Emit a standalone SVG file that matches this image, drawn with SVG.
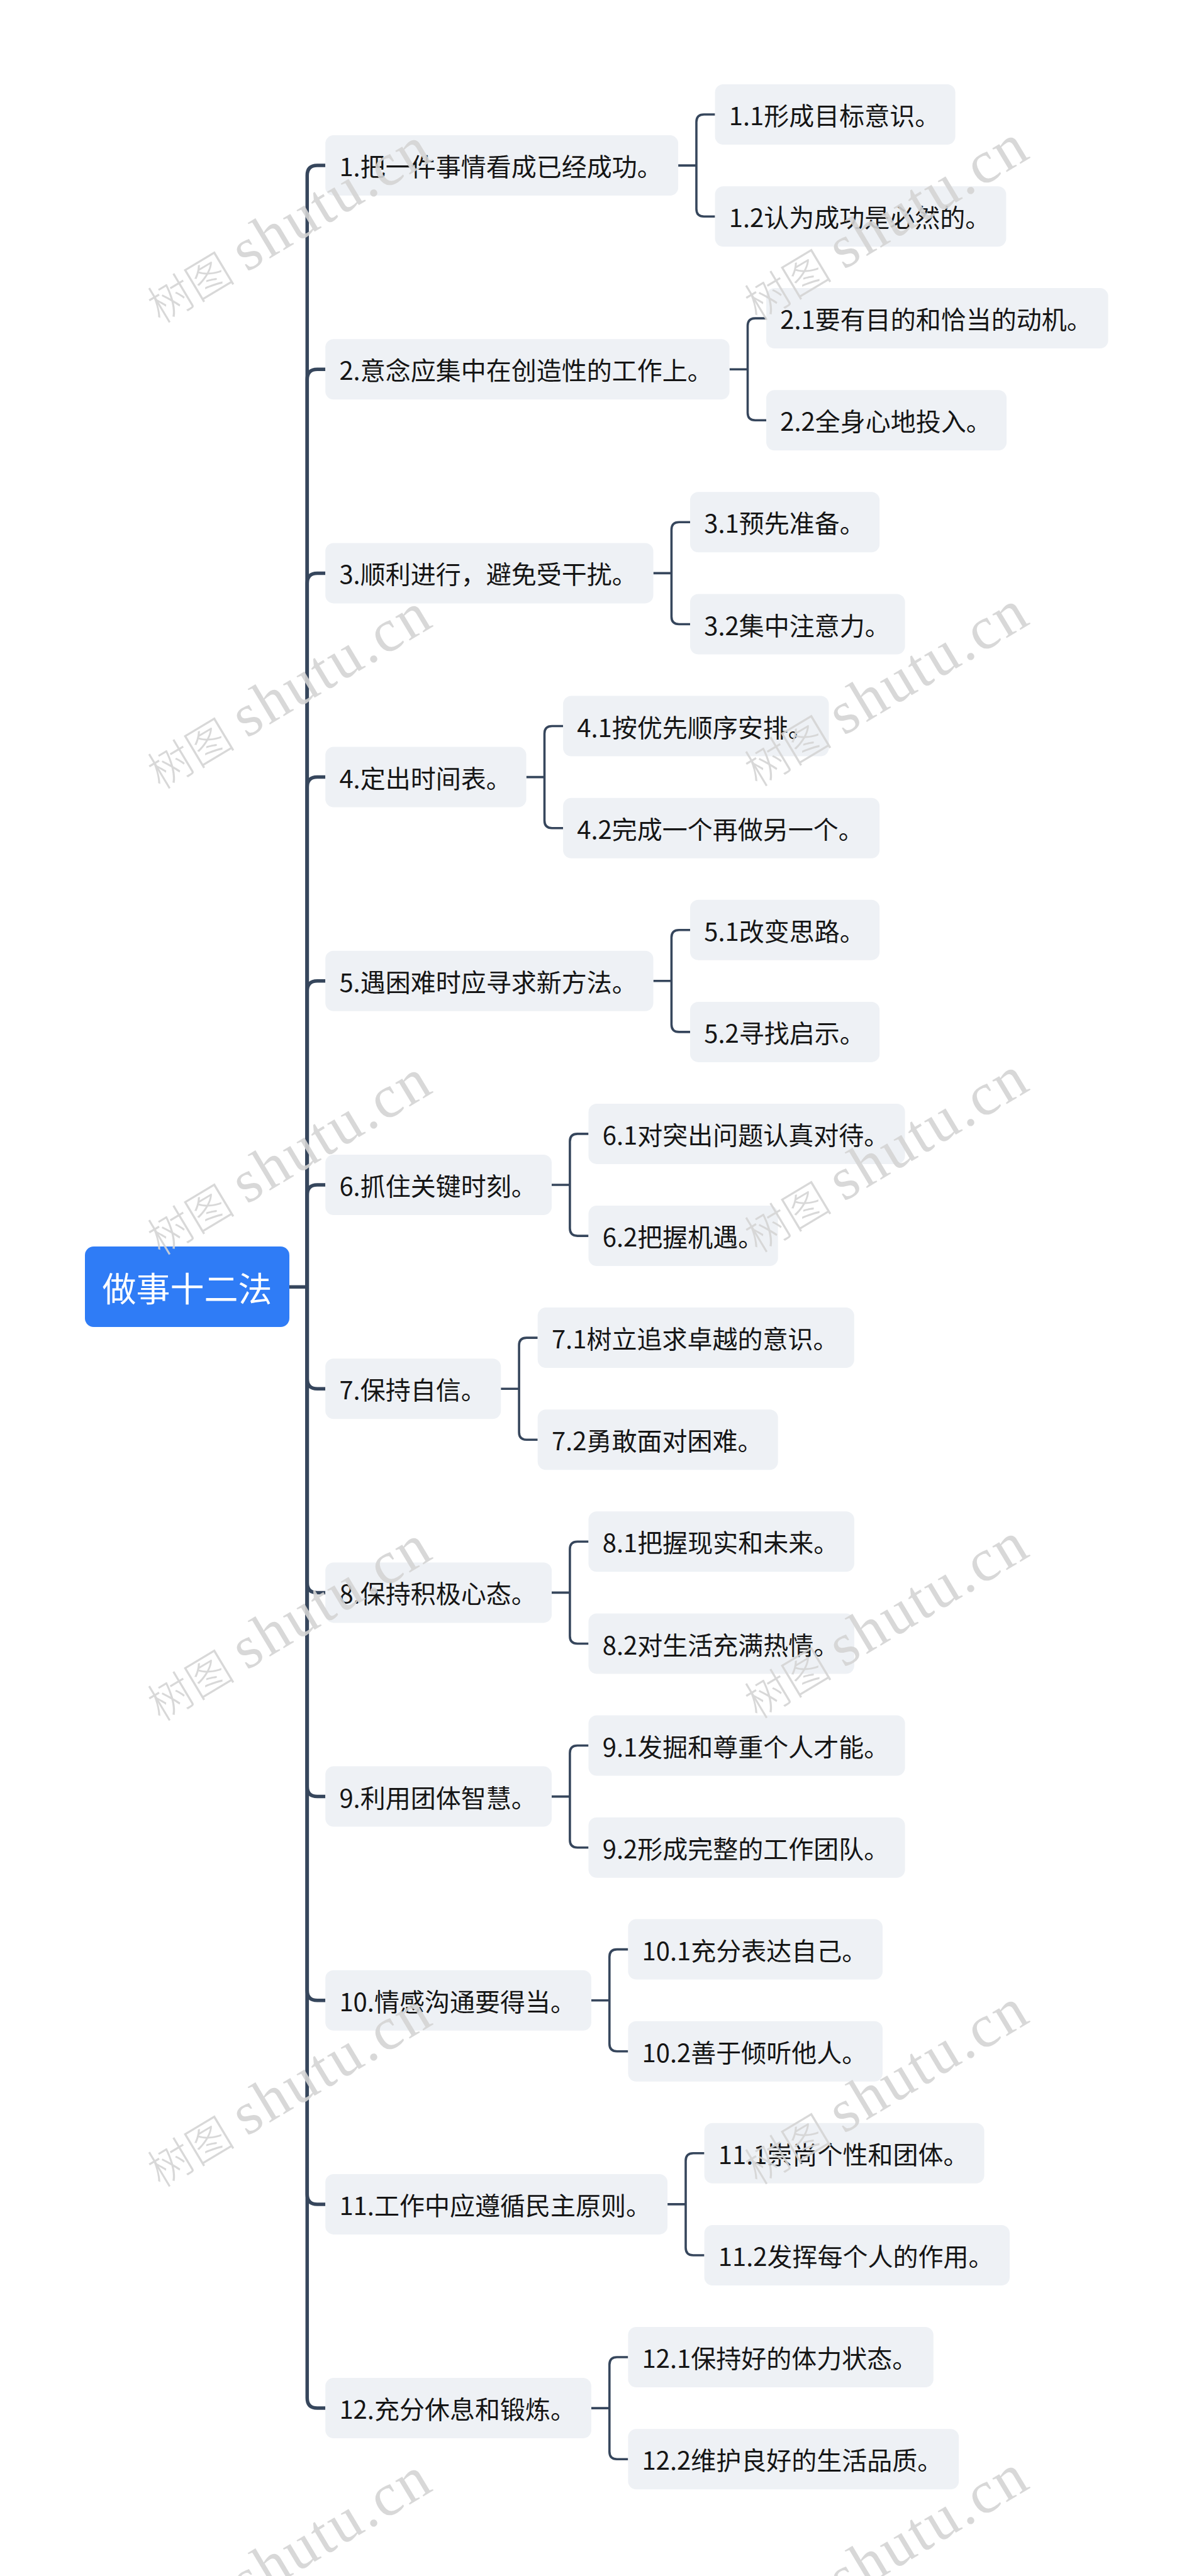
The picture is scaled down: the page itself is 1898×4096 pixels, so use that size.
<svg xmlns="http://www.w3.org/2000/svg" xmlns:xlink="http://www.w3.org/1999/xlink" width="1898" height="4096" viewBox="0 0 1898 4096">
<style>
.n rect{fill:#eef1f5}
.n text{font-family:"Noto Sans CJK SC","Noto Sans",sans-serif;font-size:40px;fill:#151515;dominant-baseline:central}
.root rect{fill:#2f7cf6}
.root text{font-family:"Noto Sans CJK SC","Noto Sans",sans-serif;font-size:54px;fill:#ffffff;text-anchor:middle;dominant-baseline:central}
.c path{fill:none;stroke:#36465c;stroke-linecap:butt;stroke-linejoin:round}
.c .l1{stroke-width:5.5}
.c .l2{stroke-width:3.6}
.wc{font-family:"Noto Sans CJK SC",sans-serif;font-size:70px;font-weight:300;fill:#d4d4d4;fill-opacity:0.9}
.wl{font-family:"Liberation Serif",serif;font-size:96px;fill:#d4d4d4;fill-opacity:0.9}
</style>
<defs>
<g id="wmk">
<text class="wc" x="0" y="-4">树图</text>
<text class="wl" x="160" y="-4" textLength="348" lengthAdjust="spacing">shutu.cn</text>
</g>
</defs>
<rect x="0" y="0" width="1898" height="4096" fill="#ffffff"/>

<g id="connectors" class="c">
<path class="l1" d="M460 2046.3 H488.3"/>
<path class="l1" d="M488.3 2046.3 V279.1 Q488.3 263.1 504.3 263.1 H517.2"/>
<path class="l1" d="M488.3 2046.3 V603.2 Q488.3 587.2 504.3 587.2 H517.2"/>
<path class="l1" d="M488.3 2046.3 V927.4 Q488.3 911.4 504.3 911.4 H517.2"/>
<path class="l1" d="M488.3 2046.3 V1251.6 Q488.3 1235.6 504.3 1235.6 H517.2"/>
<path class="l1" d="M488.3 2046.3 V1575.8 Q488.3 1559.8 504.3 1559.8 H517.2"/>
<path class="l1" d="M488.3 2046.3 V1900 Q488.3 1884 504.3 1884 H517.2"/>
<path class="l1" d="M488.3 2046.3 V2192.2 Q488.3 2208.2 504.3 2208.2 H517.2"/>
<path class="l1" d="M488.3 2046.3 V2516.4 Q488.3 2532.4 504.3 2532.4 H517.2"/>
<path class="l1" d="M488.3 2046.3 V2840.6 Q488.3 2856.6 504.3 2856.6 H517.2"/>
<path class="l1" d="M488.3 2046.3 V3164.7 Q488.3 3180.7 504.3 3180.7 H517.2"/>
<path class="l1" d="M488.3 2046.3 V3488.9 Q488.3 3504.9 504.3 3504.9 H517.2"/>
<path class="l1" d="M488.3 2046.3 V3813.1 Q488.3 3829.1 504.3 3829.1 H517.2"/>

<path class="l2" d="M1078.1 263.1 H1107 M1136.6 182 H1119 Q1107 182 1107 194 V332.2 Q1107 344.2 1119 344.2 H1136.6"/>
<path class="l2" d="M1159.6 587.2 H1188.5 M1218.1 506.1 H1200.5 Q1188.5 506.1 1188.5 518.1 V656.3 Q1188.5 668.3 1200.5 668.3 H1218.1"/>
<path class="l2" d="M1038.5 911.4 H1067.4 M1097 830.3 H1079.4 Q1067.4 830.3 1067.4 842.3 V980.5 Q1067.4 992.5 1079.4 992.5 H1097"/>
<path class="l2" d="M836.6 1235.6 H865.5 M895.1 1154.5 H877.5 Q865.5 1154.5 865.5 1166.5 V1304.7 Q865.5 1316.7 877.5 1316.7 H895.1"/>
<path class="l2" d="M1038.5 1559.8 H1067.4 M1097 1478.7 H1079.4 Q1067.4 1478.7 1067.4 1490.7 V1628.9 Q1067.4 1640.9 1079.4 1640.9 H1097"/>
<path class="l2" d="M877 1884 H905.9 M935.5 1802.9 H917.9 Q905.9 1802.9 905.9 1814.9 V1953.1 Q905.9 1965.1 917.9 1965.1 H935.5"/>
<path class="l2" d="M796.2 2208.2 H825.1 M854.7 2127.1 H837.1 Q825.1 2127.1 825.1 2139.1 V2277.3 Q825.1 2289.3 837.1 2289.3 H854.7"/>
<path class="l2" d="M877 2532.4 H905.9 M935.5 2451.3 H917.9 Q905.9 2451.3 905.9 2463.3 V2601.5 Q905.9 2613.5 917.9 2613.5 H935.5"/>
<path class="l2" d="M877 2856.6 H905.9 M935.5 2775.5 H917.9 Q905.9 2775.5 905.9 2787.5 V2925.7 Q905.9 2937.7 917.9 2937.7 H935.5"/>
<path class="l2" d="M939.9 3180.7 H968.8 M998.4 3099.6 H980.8 Q968.8 3099.6 968.8 3111.6 V3249.8 Q968.8 3261.8 980.8 3261.8 H998.4"/>
<path class="l2" d="M1061.1 3504.9 H1090 M1119.6 3423.8 H1102 Q1090 3423.8 1090 3435.8 V3574 Q1090 3586 1102 3586 H1119.6"/>
<path class="l2" d="M939.9 3829.1 H968.8 M998.4 3748 H980.8 Q968.8 3748 968.8 3760 V3898.2 Q968.8 3910.2 980.8 3910.2 H998.4"/>
</g>

<g id="root" class="root"><rect x="135" y="1982" width="325" height="128" rx="14"/><text x="297.5" y="2046.3">做事十二法</text></g>

<g id="n1" class="n"><rect x="517.2" y="215.1" width="560.9" height="96" rx="13"/><text x="539.4" y="263.1">1.把一件事情看成已经成功。</text></g>
<g id="n2" class="n"><rect x="517.2" y="539.2" width="642.4" height="96" rx="13"/><text x="539.4" y="587.2">2.意念应集中在创造性的工作上。</text></g>
<g id="n3" class="n"><rect x="517.2" y="863.4" width="521.3" height="96" rx="13"/><text x="539.4" y="911.4">3.顺利进行，避免受干扰。</text></g>
<g id="n4" class="n"><rect x="517.2" y="1187.6" width="319.4" height="96" rx="13"/><text x="539.4" y="1235.6">4.定出时间表。</text></g>
<g id="n5" class="n"><rect x="517.2" y="1511.8" width="521.3" height="96" rx="13"/><text x="539.4" y="1559.8">5.遇困难时应寻求新方法。</text></g>
<g id="n6" class="n"><rect x="517.2" y="1836" width="359.8" height="96" rx="13"/><text x="539.4" y="1884">6.抓住关键时刻。</text></g>
<g id="n7" class="n"><rect x="517.2" y="2160.2" width="279" height="96" rx="13"/><text x="539.4" y="2208.2">7.保持自信。</text></g>
<g id="n8" class="n"><rect x="517.2" y="2484.4" width="359.8" height="96" rx="13"/><text x="539.4" y="2532.4">8.保持积极心态。</text></g>
<g id="n9" class="n"><rect x="517.2" y="2808.6" width="359.8" height="96" rx="13"/><text x="539.4" y="2856.6">9.利用团体智慧。</text></g>
<g id="n10" class="n"><rect x="517.2" y="3132.7" width="422.7" height="96" rx="13"/><text x="539.4" y="3180.7">10.情感沟通要得当。</text></g>
<g id="n11" class="n"><rect x="517.2" y="3456.9" width="543.9" height="96" rx="13"/><text x="539.4" y="3504.9">11.工作中应遵循民主原则。</text></g>
<g id="n12" class="n"><rect x="517.2" y="3781.1" width="422.7" height="96" rx="13"/><text x="539.4" y="3829.1">12.充分休息和锻炼。</text></g>

<g id="n1-1" class="n"><rect x="1136.6" y="134" width="382" height="96" rx="13"/><text x="1158.8" y="182">1.1形成目标意识。</text></g>
<g id="n1-2" class="n"><rect x="1136.6" y="296.2" width="462.8" height="96" rx="13"/><text x="1158.8" y="344.2">1.2认为成功是必然的。</text></g>
<g id="n2-1" class="n"><rect x="1218.1" y="458.1" width="543.5" height="96" rx="13"/><text x="1240.3" y="506.1">2.1要有目的和恰当的动机。</text></g>
<g id="n2-2" class="n"><rect x="1218.1" y="620.3" width="382" height="96" rx="13"/><text x="1240.3" y="668.3">2.2全身心地投入。</text></g>
<g id="n3-1" class="n"><rect x="1097" y="782.3" width="301.2" height="96" rx="13"/><text x="1119.2" y="830.3">3.1预先准备。</text></g>
<g id="n3-2" class="n"><rect x="1097" y="944.5" width="341.6" height="96" rx="13"/><text x="1119.2" y="992.5">3.2集中注意力。</text></g>
<g id="n4-1" class="n"><rect x="895.1" y="1106.5" width="422.4" height="96" rx="13"/><text x="917.3" y="1154.5">4.1按优先顺序安排。</text></g>
<g id="n4-2" class="n"><rect x="895.1" y="1268.7" width="503.1" height="96" rx="13"/><text x="917.3" y="1316.7">4.2完成一个再做另一个。</text></g>
<g id="n5-1" class="n"><rect x="1097" y="1430.7" width="301.2" height="96" rx="13"/><text x="1119.2" y="1478.7">5.1改变思路。</text></g>
<g id="n5-2" class="n"><rect x="1097" y="1592.9" width="301.2" height="96" rx="13"/><text x="1119.2" y="1640.9">5.2寻找启示。</text></g>
<g id="n6-1" class="n"><rect x="935.5" y="1754.9" width="503.1" height="96" rx="13"/><text x="957.7" y="1802.9">6.1对突出问题认真对待。</text></g>
<g id="n6-2" class="n"><rect x="935.5" y="1917.1" width="301.2" height="96" rx="13"/><text x="957.7" y="1965.1">6.2把握机遇。</text></g>
<g id="n7-1" class="n"><rect x="854.7" y="2079.1" width="503.1" height="96" rx="13"/><text x="876.9" y="2127.1">7.1树立追求卓越的意识。</text></g>
<g id="n7-2" class="n"><rect x="854.7" y="2241.3" width="382" height="96" rx="13"/><text x="876.9" y="2289.3">7.2勇敢面对困难。</text></g>
<g id="n8-1" class="n"><rect x="935.5" y="2403.3" width="422.4" height="96" rx="13"/><text x="957.7" y="2451.3">8.1把握现实和未来。</text></g>
<g id="n8-2" class="n"><rect x="935.5" y="2565.5" width="422.4" height="96" rx="13"/><text x="957.7" y="2613.5">8.2对生活充满热情。</text></g>
<g id="n9-1" class="n"><rect x="935.5" y="2727.5" width="503.1" height="96" rx="13"/><text x="957.7" y="2775.5">9.1发掘和尊重个人才能。</text></g>
<g id="n9-2" class="n"><rect x="935.5" y="2889.7" width="503.1" height="96" rx="13"/><text x="957.7" y="2937.7">9.2形成完整的工作团队。</text></g>
<g id="n10-1" class="n"><rect x="998.4" y="3051.6" width="404.6" height="96" rx="13"/><text x="1020.6" y="3099.6">10.1充分表达自己。</text></g>
<g id="n10-2" class="n"><rect x="998.4" y="3213.8" width="404.6" height="96" rx="13"/><text x="1020.6" y="3261.8">10.2善于倾听他人。</text></g>
<g id="n11-1" class="n"><rect x="1119.6" y="3375.8" width="445" height="96" rx="13"/><text x="1141.8" y="3423.8">11.1崇尚个性和团体。</text></g>
<g id="n11-2" class="n"><rect x="1119.6" y="3538" width="485.4" height="96" rx="13"/><text x="1141.8" y="3586">11.2发挥每个人的作用。</text></g>
<g id="n12-1" class="n"><rect x="998.4" y="3700" width="485.4" height="96" rx="13"/><text x="1020.6" y="3748">12.1保持好的体力状态。</text></g>
<g id="n12-2" class="n"><rect x="998.4" y="3862.2" width="525.8" height="96" rx="13"/><text x="1020.6" y="3910.2">12.2维护良好的生活品质。</text></g>

<g id="watermarks">
<use xlink:href="#wmk" transform="translate(257 519) rotate(-31)"/>
<use xlink:href="#wmk" transform="translate(1206 515) rotate(-31)"/>
<use xlink:href="#wmk" transform="translate(257 1260) rotate(-31)"/>
<use xlink:href="#wmk" transform="translate(1206 1256) rotate(-31)"/>
<use xlink:href="#wmk" transform="translate(257 2001) rotate(-31)"/>
<use xlink:href="#wmk" transform="translate(1206 1997) rotate(-31)"/>
<use xlink:href="#wmk" transform="translate(257 2742) rotate(-31)"/>
<use xlink:href="#wmk" transform="translate(1206 2738) rotate(-31)"/>
<use xlink:href="#wmk" transform="translate(257 3483) rotate(-31)"/>
<use xlink:href="#wmk" transform="translate(1206 3479) rotate(-31)"/>
<use xlink:href="#wmk" transform="translate(257 4224) rotate(-31)"/>
<use xlink:href="#wmk" transform="translate(1206 4220) rotate(-31)"/>
</g>
</svg>
